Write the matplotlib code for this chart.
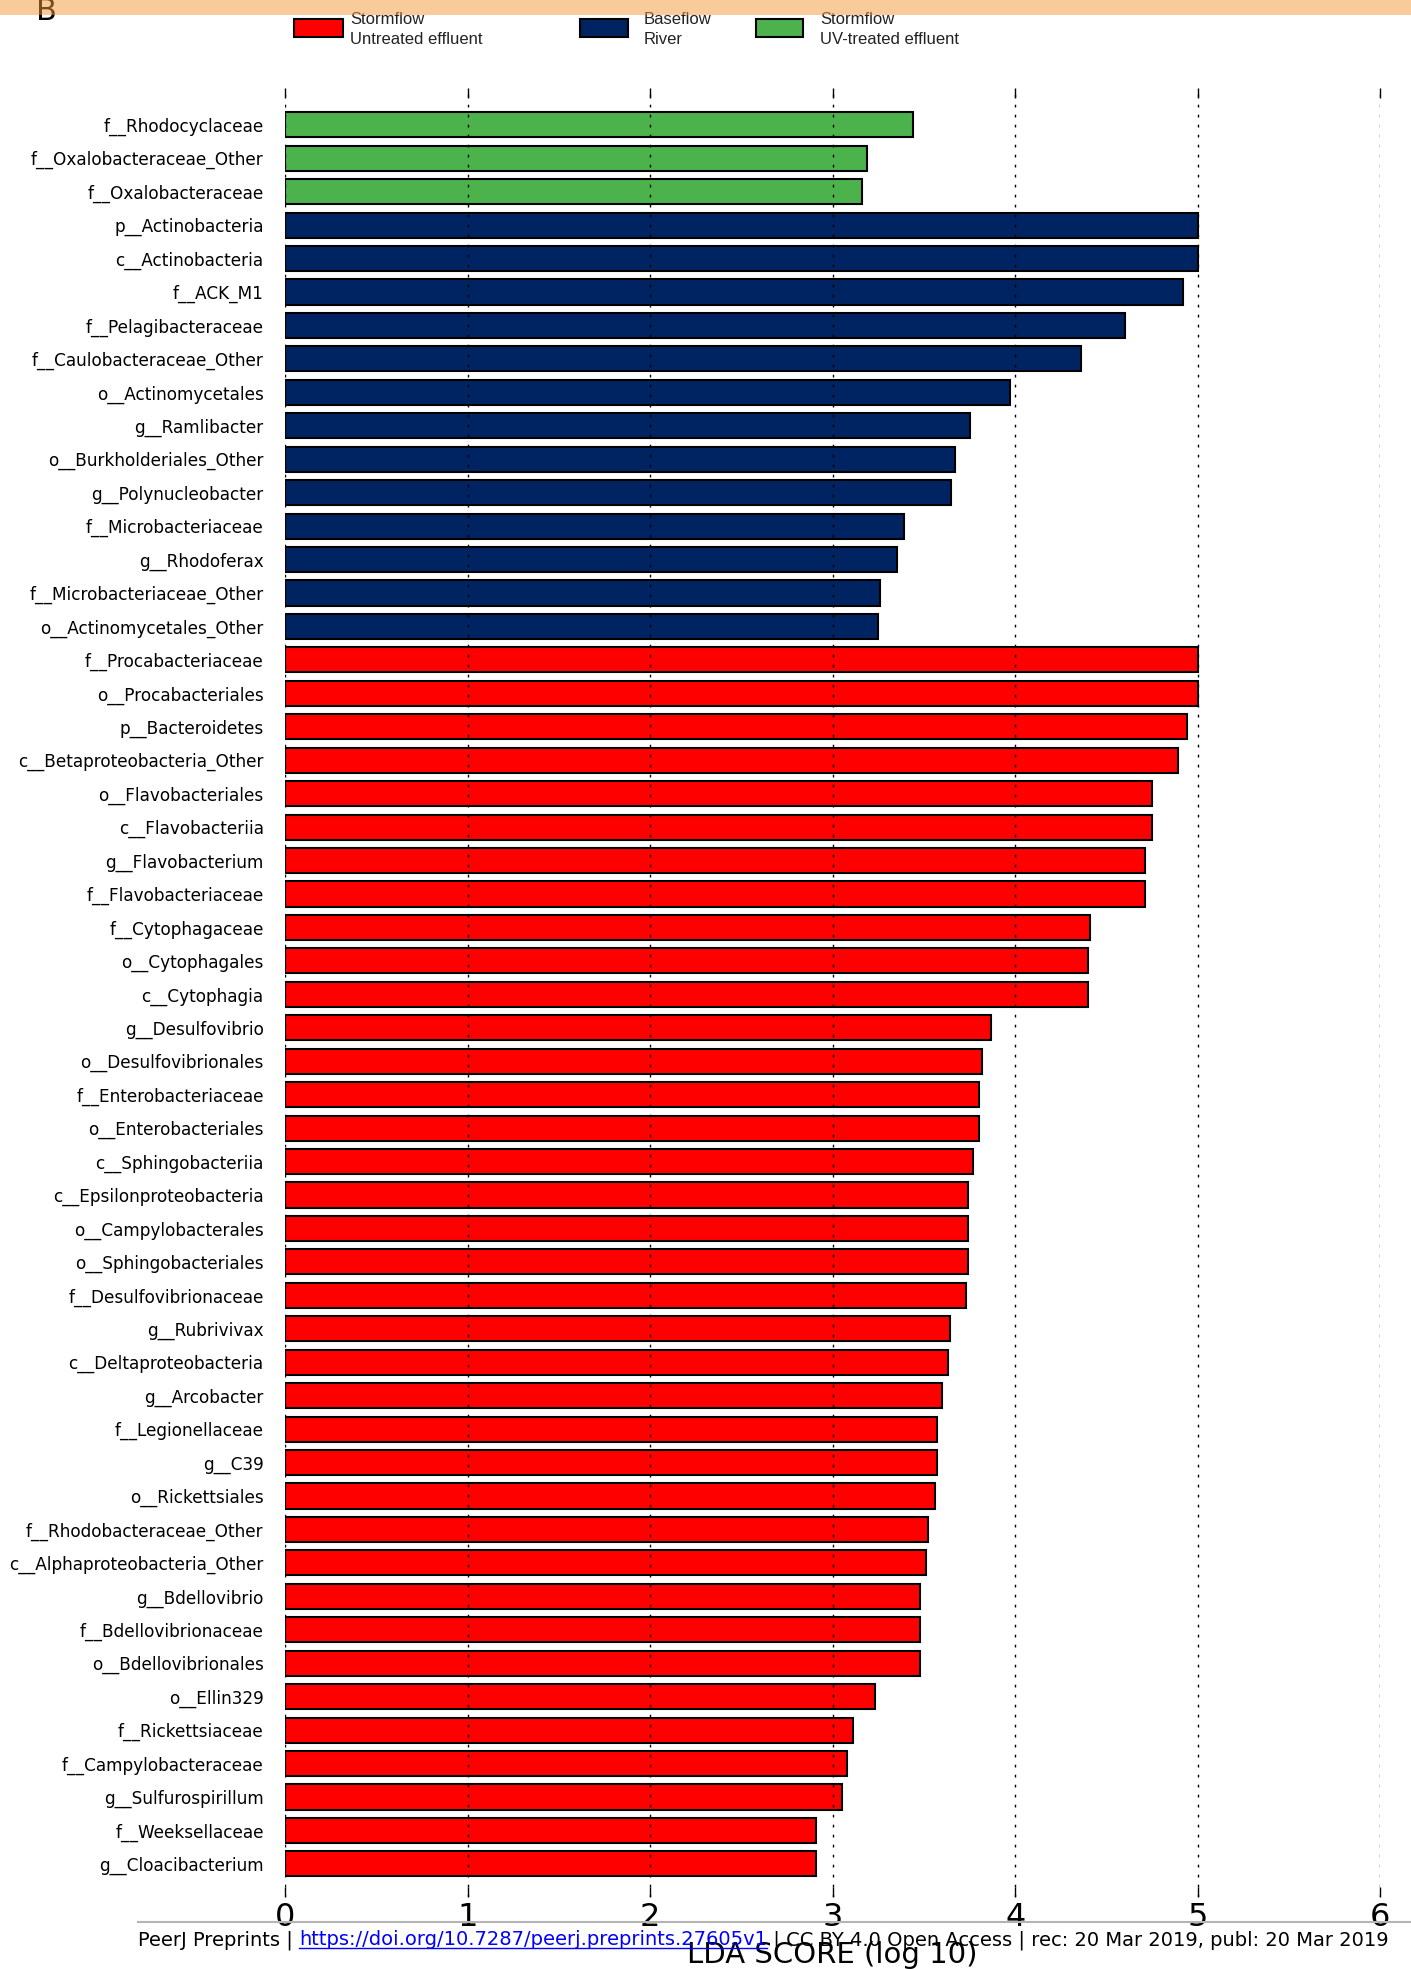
import matplotlib
matplotlib.use('Agg')
import matplotlib.pyplot as plt
from matplotlib.patches import Rectangle
from matplotlib.lines import Line2D
import numpy as np

# LEfSe result: taxa listed top to bottom, LDA score (log10) and enriched group
taxa = [
    'f__Rhodocyclaceae', 'f__Oxalobacteraceae_Other', 'f__Oxalobacteraceae',
    'p__Actinobacteria', 'c__Actinobacteria', 'f__ACK_M1', 'f__Pelagibacteraceae',
    'f__Caulobacteraceae_Other', 'o__Actinomycetales', 'g__Ramlibacter',
    'o__Burkholderiales_Other', 'g__Polynucleobacter', 'f__Microbacteriaceae',
    'g__Rhodoferax', 'f__Microbacteriaceae_Other', 'o__Actinomycetales_Other',
    'f__Procabacteriaceae', 'o__Procabacteriales', 'p__Bacteroidetes',
    'c__Betaproteobacteria_Other', 'o__Flavobacteriales', 'c__Flavobacteriia',
    'g__Flavobacterium', 'f__Flavobacteriaceae', 'f__Cytophagaceae',
    'o__Cytophagales', 'c__Cytophagia', 'g__Desulfovibrio', 'o__Desulfovibrionales',
    'f__Enterobacteriaceae', 'o__Enterobacteriales', 'c__Sphingobacteriia',
    'c__Epsilonproteobacteria', 'o__Campylobacterales', 'o__Sphingobacteriales',
    'f__Desulfovibrionaceae', 'g__Rubrivivax', 'c__Deltaproteobacteria',
    'g__Arcobacter', 'f__Legionellaceae', 'g__C39', 'o__Rickettsiales',
    'f__Rhodobacteraceae_Other', 'c__Alphaproteobacteria_Other', 'g__Bdellovibrio',
    'f__Bdellovibrionaceae', 'o__Bdellovibrionales', 'o__Ellin329',
    'f__Rickettsiaceae', 'f__Campylobacteraceae', 'g__Sulfurospirillum',
    'f__Weeksellaceae', 'g__Cloacibacterium',
]

lda_scores = [
    3.44, 3.19, 3.16,
    5.00, 5.00, 4.92, 4.60, 4.36, 3.97, 3.75, 3.67, 3.65, 3.39, 3.35, 3.26, 3.25,
    5.00, 5.00, 4.94, 4.89, 4.75, 4.75, 4.71, 4.71, 4.41, 4.40, 4.40,
    3.87, 3.82, 3.80, 3.80, 3.77, 3.74, 3.74, 3.74, 3.73, 3.64, 3.63,
    3.60, 3.57, 3.57, 3.56, 3.52, 3.51, 3.48, 3.48, 3.48, 3.23, 3.11,
    3.08, 3.05, 2.91, 2.91,
]

groups = ['uv'] * 3 + ['river'] * 13 + ['untreated'] * 37

group_colors = {'untreated': '#FF0000', 'river': '#002462', 'uv': '#4CB24C'}
legend_labels = [
    ('untreated', 'Stormflow', 'Untreated effluent'),
    ('river', 'Baseflow', 'River'),
    ('uv', 'Stormflow', 'UV-treated effluent'),
]

W, H = 1411, 1969
fig = plt.figure(figsize=(W / 100, H / 100), dpi=100)

def fx(px):
    return px / W

def fy(py):
    return 1 - py / H

ax = fig.add_axes([fx(285.2), fy(1897), fx(1380.2) - fx(285.2), fy(88) - fy(1897)])

pos = np.arange(len(taxa))
bar_colors = [group_colors[g] for g in groups]
ax.barh(pos, lda_scores, height=0.75, color=bar_colors, edgecolor='black',
        linewidth=1.5, zorder=2)

ax.set_xlim(0, 6)
ax.set_ylim(len(taxa) - 1 + 0.99, -1.1)
ax.set_yticks(pos)
ax.set_yticklabels(taxa, fontsize=12.2)
ax.tick_params(axis='y', length=0, pad=15.5)
ax.set_xticks(range(7))
ax.tick_params(axis='x', direction='in', length=7.5, width=1, top=True,
               labelsize=23, pad=3.5)
for s in ax.spines.values():
    s.set_visible(False)
ax.set_axisbelow(False)
ax.grid(axis='x', color='black', linestyle=(0, (2, 5.2)), linewidth=1)
ax.set_xlabel('LDA SCORE (log 10)', fontsize=21, labelpad=6)

# legend across the top
patch_x = [(294, 343), (580, 628), (756, 803)]
text_x = [350, 644, 820]
for (key, line1, line2), (x0, x1), tx in zip(legend_labels, patch_x, text_x):
    fig.add_artist(Rectangle((fx(x0), fy(37)), fx(x1) - fx(x0), fy(19) - fy(37),
                             transform=fig.transFigure, facecolor=group_colors[key],
                             edgecolor='black', linewidth=1.5))
    fig.text(fx(tx), fy(24), line1, fontsize=12, family='Liberation Sans',
             color='#222222', va='baseline')
    fig.text(fx(tx), fy(43.5), line2, fontsize=12, family='Liberation Sans',
             color='#222222', va='baseline')

# panel letter and header band
fig.text(fx(36), fy(20), 'B', fontsize=22, color='black', va='baseline')
fig.add_artist(Rectangle((0, fy(15)), 1, 15 / H, transform=fig.transFigure,
                         facecolor='#F59937', edgecolor='none', alpha=0.5, zorder=10))

# footer
fig.add_artist(Line2D([fx(138), 1], [fy(1922), fy(1922)], transform=fig.transFigure,
                      color='#b4b4b4', linewidth=1.5, zorder=5))
footer_parts = [
    ('PeerJ Preprints | ', 'black', False),
    ('https://doi.org/10.7287/peerj.preprints.27605v1', 'blue', True),
    (' | CC BY 4.0 Open Access | rec: 20 Mar 2019, publ: 20 Mar 2019', 'black', False),
]
renderer = fig.canvas.get_renderer()
x = fx(138)
for piece, color, underline in footer_parts:
    t = fig.text(x, fy(1945), piece, fontsize=14.05, color=color, va='baseline', zorder=6)
    bb = t.get_window_extent(renderer)
    if underline:
        fig.add_artist(Line2D([bb.x0 / W, bb.x1 / W], [fy(1948), fy(1948)],
                              transform=fig.transFigure, color=color, linewidth=1, zorder=6))
    x = bb.x1 / W

fig.savefig('out.png', dpi=100)
